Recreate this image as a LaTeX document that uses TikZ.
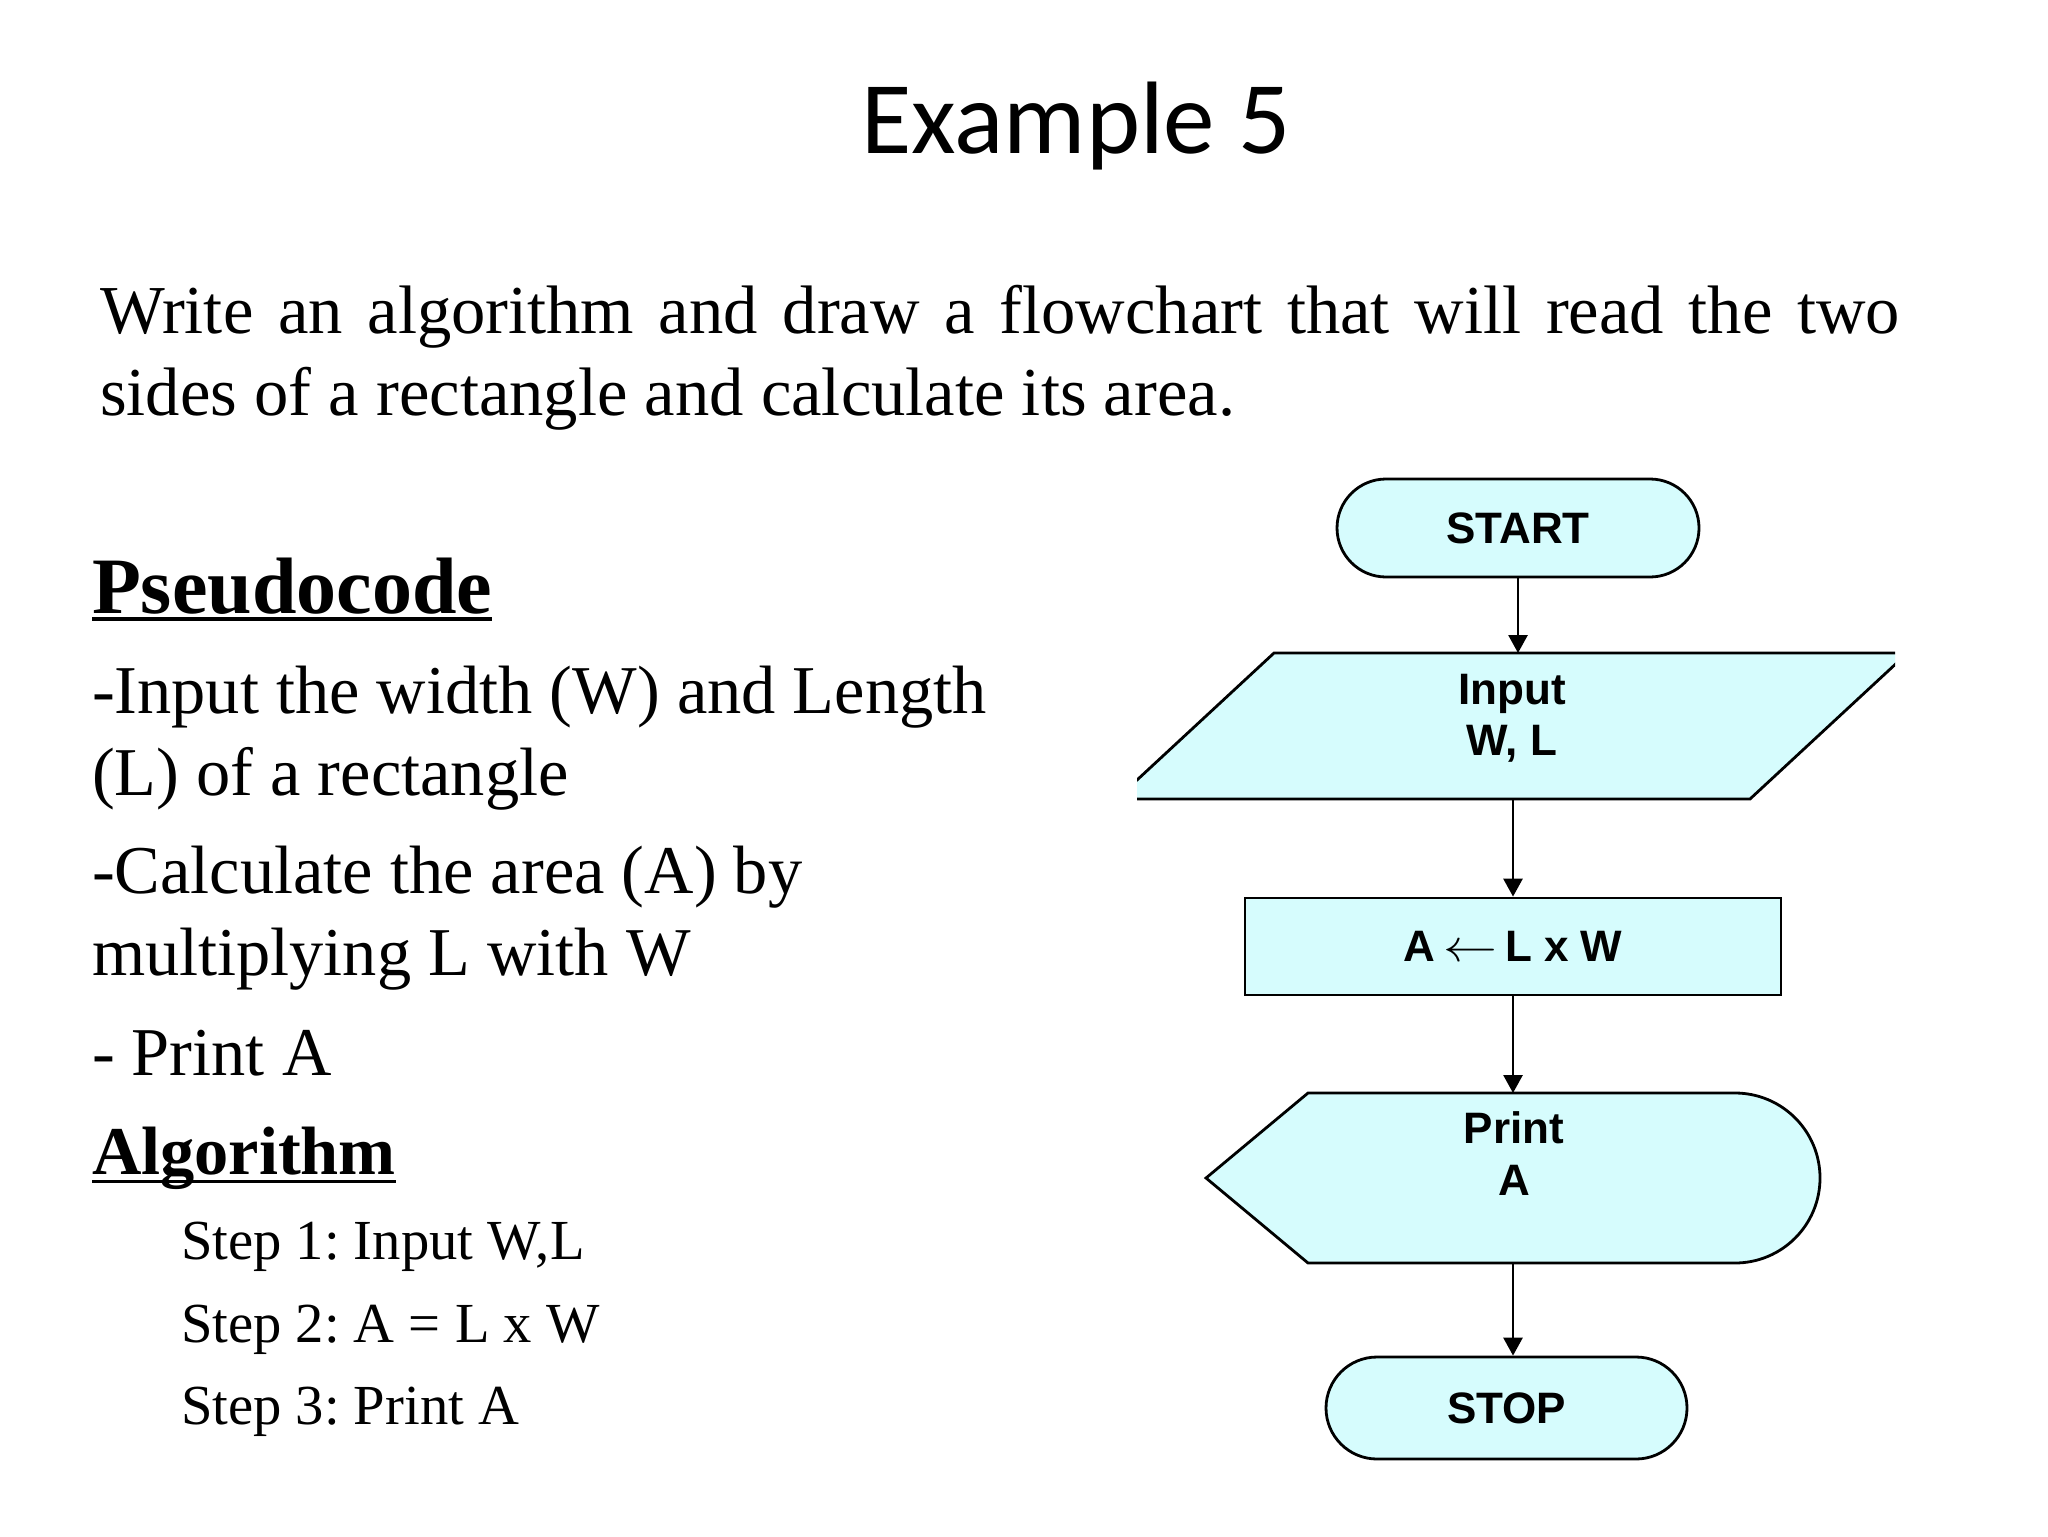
\documentclass[tikz,border=0pt]{standalone}
\usepackage{fontspec}
\setmainfont{Liberation Serif}
\newfontfamily\fcfont{Liberation Sans}
\newfontfamily\titlefont{Carlito}
\usetikzlibrary{arrows.meta}
\definecolor{fcfill}{RGB}{214,252,253}
\frenchspacing
\tikzset{
  txt/.style={anchor=base west, inner sep=0pt, outer sep=0pt},
  body/.style={txt, font=\fontsize{34.2}{40}\selectfont},
  head/.style={txt, font=\bfseries\fontsize{40}{48}\selectfont},
  stepline/.style={txt, font=\fontsize{28.3}{34}\selectfont},
  ul/.style={line width=2pt},
  fcshape/.style={draw=black, line width=1.4pt, fill=fcfill},
  fctext/.style={inner sep=0pt, font=\fcfont\bfseries\fontsize{22}{26}\selectfont},
  term/.style={fcshape, fctext, rounded corners=24.5pt, minimum width=181pt, minimum height=49pt},
  proc/.style={fcshape, fctext, minimum width=268pt, minimum height=48.5pt},
  ghost/.style={inner sep=0pt, outer sep=0pt},
  arr/.style={line width=1.4pt, -{Triangle[length=9pt,width=9.5pt]}}
}
\begin{document}
\begin{tikzpicture}[x=0.5pt,y=-0.5pt]
\useasboundingbox (0,0) rectangle (2048,1536);
\fill[white] (0,0) rectangle (2048,1536);

% title
\node[anchor=base, inner sep=0pt, font=\titlefont\fontsize{51.5}{60}\selectfont] (title) at (1076,154) {Example 5};

% problem statement
\node[txt, font=\fontsize{34.3}{40}\selectfont] (prob1) at (100,333) {\makebox[900pt][s]{Write an algorithm and draw a flowchart that will read the two}};
\node[txt, font=\fontsize{34.3}{40}\selectfont] (prob2) at (100,415) {sides of a rectangle and calculate its area.};

% pseudocode
\node[head] (pc) at (92,613) {Pseudocode};
\draw[ul] ([yshift=-3pt]pc.base west) -- ([yshift=-3pt]pc.base east);
\node[body] (p1) at (92,713) {-Input the width (W) and Length};
\node[body] (p2) at (92,795) {(L) of a rectangle};
\node[body] (p3) at (92,893) {-Calculate the area (A) by};
\node[body] (p4) at (92,975) {multiplying L with W};
\node[body] (p5) at (92,1075) {- Print A};

% algorithm
\node[txt, font=\bfseries\fontsize{34.2}{40}\selectfont] (alg) at (92,1174) {Algorithm};
\draw[line width=1.7pt] ([yshift=-3.8pt]alg.base west) -- ([yshift=-3.8pt]alg.base east);
\node[stepline] (s1) at (181,1259) {Step 1: Input W,L};
\node[stepline] (s2) at (181,1342) {Step 2: A = L x W};
\node[stepline] (s3) at (181,1424) {Step 3: Print A};

% ---------------- flowchart ----------------
\node[term] (start) at (1518,528) {START};

% input parallelogram (clipped at the picture edges)
\begin{scope}
  \clip (1137,600) rectangle (1895,860);
  \draw[fcshape] (1116.5,799) -- (1274,653) -- (1907.5,653) -- (1750,799) -- cycle;
\end{scope}
\node[ghost, minimum width=379pt, minimum height=73pt] (inp) at (1516,726) {};
\node[fctext, anchor=base] (inpa) at (1512,704) {Input};
\node[fctext, anchor=base] (inpb) at (1512,755) {W, L};

% process
\node[proc] (calc) at (1513,946.5) {A\kern4pt\scalebox{1.3}[1.1]{$\leftarrow$}\kern4pt L x W};

% display shape
\draw[fcshape] (1206,1178) -- (1308,1093) -- (1735,1093)
   arc[start angle=90, end angle=-90, radius=42.5pt] -- (1308,1263) -- cycle;
\node[ghost, minimum width=307pt, minimum height=85pt] (prn) at (1513,1178) {};
\node[fctext, anchor=base] (prna) at (1514,1143) {Print};
\node[fctext, anchor=base] (prnb) at (1514,1195) {A};

\node[term, rounded corners=25.5pt, minimum width=180.5pt, minimum height=51pt] (stop) at (1506.5,1408) {STOP};

% connectors
\draw[arr] (start.south) -- (start.south |- inp.north);
\draw[arr] (inp.south -| calc.north) -- (calc.north);
\draw[arr] (calc.south) -- (calc.south |- prn.north);
\draw[arr] (prn.south -| calc.south) -- (stop.north -| calc.south);
\end{tikzpicture}
\end{document}
